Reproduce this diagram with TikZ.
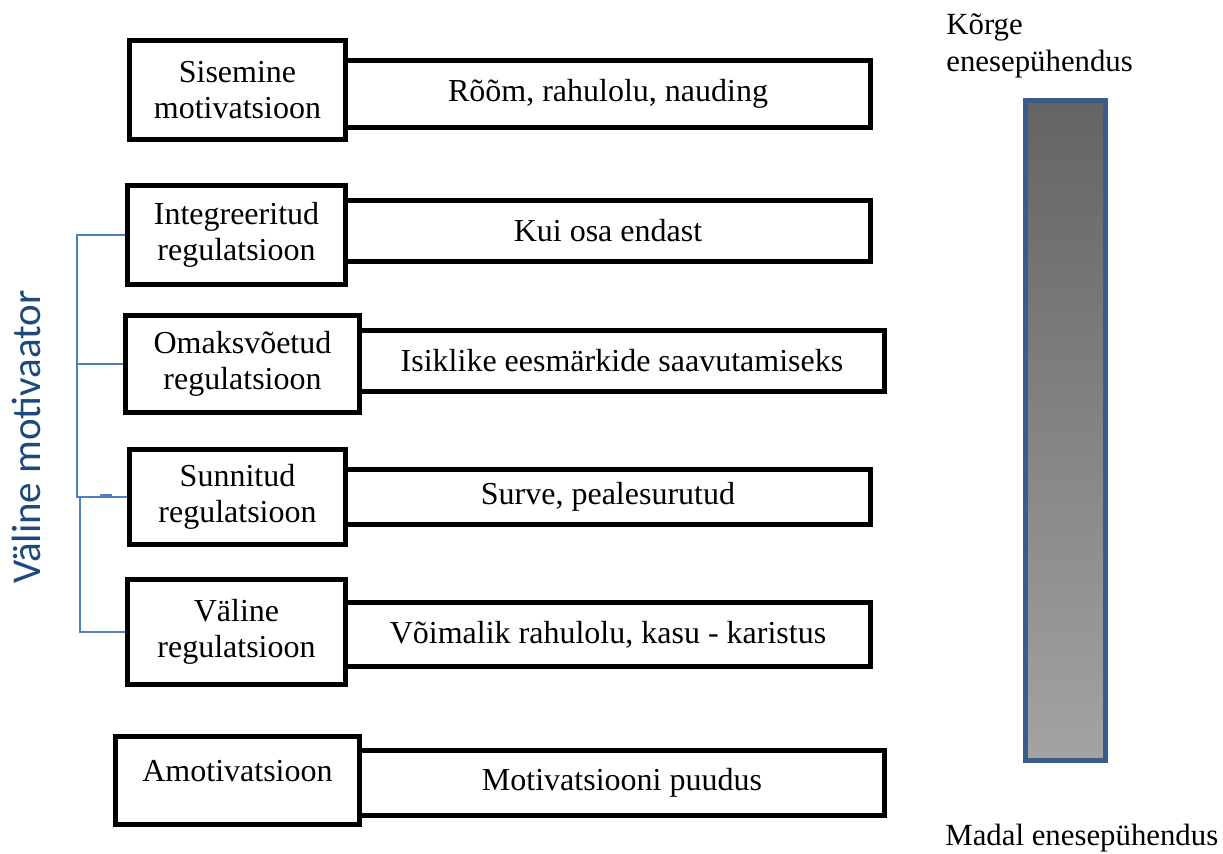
\documentclass[tikz,border=0pt]{standalone}
\usepackage{fontspec}
\setmainfont{Liberation Serif}
\newfontfamily\calibri{Carlito}
\usepackage{tikz}
\definecolor{accblue}{HTML}{4F81BD}
\definecolor{bardark}{HTML}{385D8A}
\definecolor{labblue}{HTML}{1F497D}
\tikzset{lbox/.style={draw, line width=2.5pt, fill=white, rectangle, align=center, inner sep=0pt, font=\fontsize{16}{18}\selectfont},
  rbox/.style={lbox, minimum width=262.5pt}, bracket/.style={draw=accblue, line width=0.8pt},
  sidetext/.style={inner sep=0pt, font=\fontsize{15.4}{18.5}\selectfont}}

\begin{document}
\begin{tikzpicture}[x=0.5pt, y=-0.5pt]
    \useasboundingbox (0,0) rectangle (1223,853);
    % right boxes first, left boxes lie over them
    \node [rbox, minimum height=33.5pt] (r1) at (608,94) {Rõõm, rahulolu, nauding};
    \node [rbox, minimum height=30.5pt] (r2) at (608,231) {Kui osa endast};
    \node [rbox, minimum height=30.5pt] (r3) at (622,361) {Isiklike eesmärkide saavutamiseks};
    \node [rbox, minimum height=27.5pt] (r4) at (608,497) {Surve, pealesurutud};
    \node [rbox, minimum height=32pt] (r5) at (608,634.5) {Võimalik rahulolu, kasu - karistus};
    \node [rbox, minimum height=32.5pt] (r6) at (622,783) {Motivatsiooni puudus};
    \node [lbox, minimum width=108pt, minimum height=49.5pt] (l1) at (237.5,90) {Sisemine\\motivatsioon};
    \node [lbox, minimum width=109pt, minimum height=49.5pt] (l2) at (236.5,235) {Integreeritud\\regulatsioon};
    \node [lbox, minimum width=117pt, minimum height=48.5pt] (l3) at (242.5,364) {Omaksvõetud\\regulatsioon};
    \node [lbox, minimum width=108pt, minimum height=47.5pt] (l4) at (237.5,497) {Sunnitud\\regulatsioon};
    \node [lbox, minimum width=109pt, minimum height=52.5pt] (l5) at (236.5,632) {Väline\\regulatsioon};
    \node [lbox, minimum width=122pt, minimum height=44pt] (l6) at (237.5,780.5) {\raisebox{10pt}{Amotivatsioon}};
    % bracket of the outer motivation
    \coordinate (bk) at (77,0);
    \draw [bracket] (l2.west) -- (l2.west -| bk) -- (l4.west -| bk) -- (l4.west);
    \draw [bracket] (l3.west) -- (l3.west -| bk);
    \draw [bracket] ([xshift=1.5pt]bk |- l4.west) |- (l5.west);
    \draw [bracket] ([xshift=11.5pt, yshift=1pt]bk |- l4.west) -- ++(6pt,0);
    \node [rotate=90, text=labblue, font=\calibri\fontsize{20.5}{23}\selectfont] (vm) at (26,437) {Väline motivaator};
    % scale of commitment
    \draw [draw=bardark, line width=2.5pt, top color=black!61, bottom color=black!36] (1025.5,100.5) rectangle (1105.5,760.5);
    \node [sidetext, anchor=north west, align=left] (hi) at (946,13) {Kõrge\\enesepühendus};
    \node [sidetext, anchor=base west] (lo) at (945,845) {Madal enesepühendus};
  \end{tikzpicture}
\end{document}
